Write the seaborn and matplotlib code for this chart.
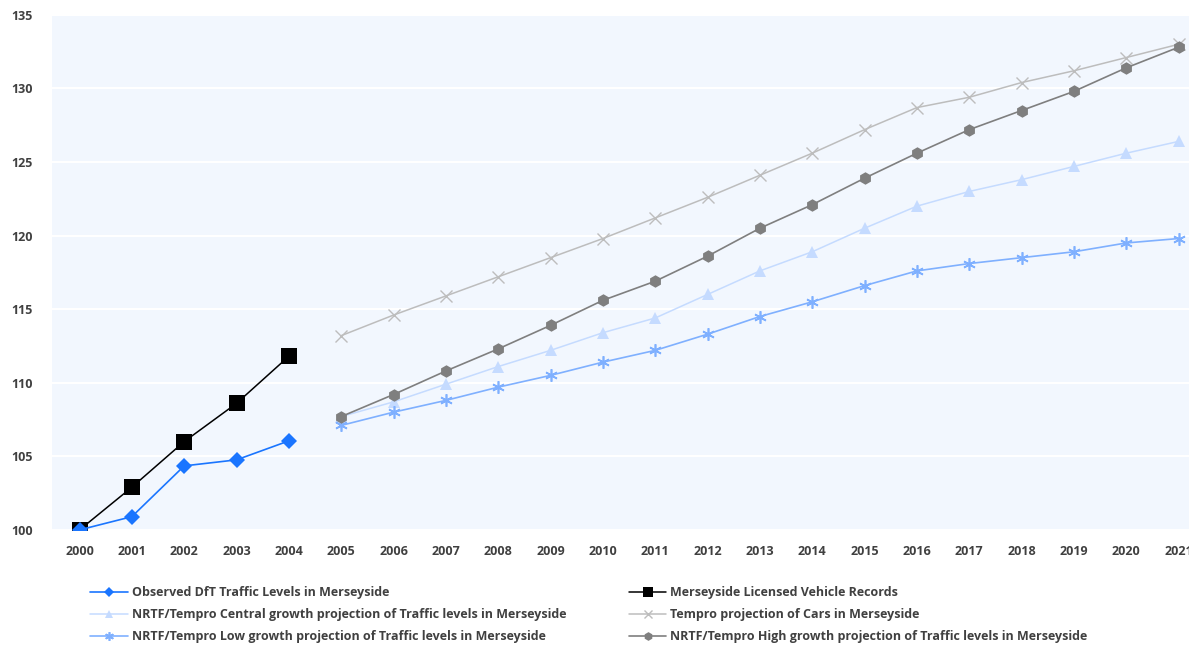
import matplotlib
matplotlib.use("Agg")
import matplotlib.pyplot as plt
import seaborn as sns

years_obs = [2000, 2001, 2002, 2003, 2004]
years_proj = list(range(2005, 2022))

observed = [100.0, 100.9, 104.35, 104.76, 106.05]
licensed = [100.0, 102.9, 106.0, 108.6, 111.8]

central = [107.7, 108.7, 109.9, 111.1, 112.2, 113.4, 114.4, 116.0, 117.6, 118.9,
           120.5, 122.0, 123.0, 123.8, 124.7, 125.6, 126.4]
cars = [113.2, 114.6, 115.9, 117.2, 118.5, 119.8, 121.2, 122.6, 124.1, 125.6,
        127.2, 128.7, 129.4, 130.4, 131.2, 132.1, 133.0]
low = [107.1, 108.0, 108.8, 109.7, 110.5, 111.4, 112.2, 113.3, 114.5, 115.5,
       116.6, 117.6, 118.1, 118.5, 118.9, 119.5, 119.8]
high = [107.7, 109.2, 110.8, 112.3, 113.9, 115.6, 116.9, 118.6, 120.5, 122.1,
        123.9, 125.6, 127.2, 128.5, 129.8, 131.4, 132.8]

labels = {
    "obs": "Observed DfT Traffic Levels in Merseyside",
    "lic": "Merseyside Licensed Vehicle Records",
    "cen": "NRTF/Tempro Central growth projection of Traffic levels in Merseyside",
    "car": "Tempro projection of Cars in Merseyside",
    "low": "NRTF/Tempro Low growth projection of Traffic levels in Merseyside",
    "high": "NRTF/Tempro High growth projection of Traffic levels in Merseyside",
}

sns.set_style("white")
plt.rcParams["font.family"] = ["Open Sans", "DejaVu Sans"]

fig = plt.figure(figsize=(11.89, 6.47), dpi=100)
ax = fig.add_axes([0.044, 0.181, 0.956, 0.796])
ax.set_facecolor("#f2f7fe")

asterisk = (6, 2, 0)
# projections first, observed series on top
sns.lineplot(x=years_proj, y=cars, ax=ax, color="#bdbdbd", marker="x", markersize=8,
             markeredgewidth=1, markeredgecolor="#bdbdbd", linewidth=1.1,
             label=labels["car"], zorder=2)
sns.lineplot(x=years_proj, y=high, ax=ax, color="#7f7f7f", marker="h", markersize=9,
             markeredgewidth=0, linewidth=1.2, label=labels["high"], zorder=3)
sns.lineplot(x=years_proj, y=central, ax=ax, color="#c5dbff", marker="^", markersize=9,
             markeredgewidth=0, linewidth=1.1, label=labels["cen"], zorder=2)
sns.lineplot(x=years_proj, y=low, ax=ax, color="#7fb0ff", marker=asterisk, markersize=9,
             markeredgewidth=1.2, markeredgecolor="#7fb0ff", linewidth=1.2,
             label=labels["low"], zorder=2)
sns.lineplot(x=years_obs, y=licensed, ax=ax, color="black", marker="s", markersize=11,
             markeredgewidth=0, linewidth=1.1, label=labels["lic"], zorder=4)
sns.lineplot(x=years_obs, y=observed, ax=ax, color="#1a75ff", marker="D", markersize=8,
             markeredgewidth=0, linewidth=1.2, label=labels["obs"], zorder=5)

ax.set_xlim(1999.48, 2021.2)
ax.set_ylim(100, 135)
ax.set_yticks(range(100, 136, 5))
ax.set_xticks(years_obs + years_proj)
ax.set_xticklabels([str(y) for y in years_obs + years_proj])
ax.grid(axis="y", color="white", linewidth=1.5)
ax.set_axisbelow(True)
for s in ax.spines.values():
    s.set_visible(False)
ax.tick_params(axis="both", length=0, labelsize=9, colors="#404040")
ax.tick_params(axis="x", pad=11)
ax.tick_params(axis="y", pad=14)
for t in ax.get_xticklabels() + ax.get_yticklabels():
    t.set_fontweight("bold")
ax.set_xlabel("")
ax.set_ylabel("")

handles, labs = ax.get_legend_handles_labels()
hmap = dict(zip(labs, handles))
ax.get_legend().remove()

leg_kw = dict(loc="upper left", frameon=False, prop={"size": 9, "weight": "bold"},
              handlelength=3.0, handletextpad=0.3, labelspacing=0.72,
              markerscale=0.7, borderaxespad=0, borderpad=0)
left_keys = ["obs", "cen", "low"]
right_keys = ["lic", "car", "high"]
leg1 = fig.legend([hmap[labels[k]] for k in left_keys], [labels[k] for k in left_keys],
                  bbox_to_anchor=(0.076, 0.094), **leg_kw)
leg2 = fig.legend([hmap[labels[k]] for k in right_keys], [labels[k] for k in right_keys],
                  bbox_to_anchor=(0.529, 0.094), **leg_kw)
for leg in (leg1, leg2):
    for t in leg.get_texts():
        t.set_color("#404040")

fig.savefig("out.png", dpi=100)
